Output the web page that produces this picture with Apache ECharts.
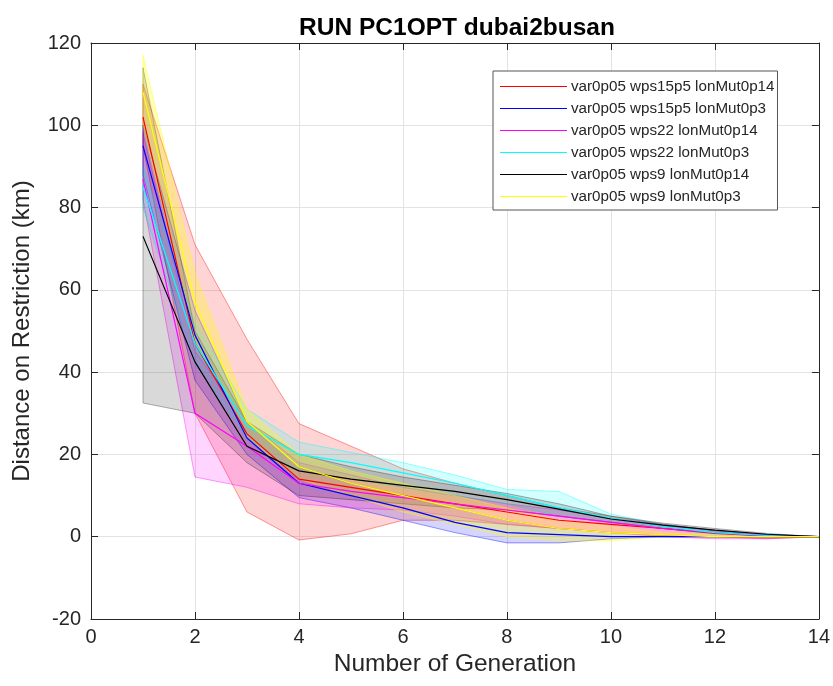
<!DOCTYPE html>
<html>
<head>
<meta charset="utf-8">
<script src="https://cdn.jsdelivr.net/npm/echarts@6/dist/echarts.min.js"></script>
<style>html,body{margin:0;padding:0;background:#fff}#c{width:833px;height:686px}</style>
</head>
<body>
<div id="c"></div>
<script>
const generations = [1,2,3,4,5,6,7,8,9,10,11,12,13,14];
const seriesNames = [
  'var0p05 wps15p5 lonMut0p14',
  'var0p05 wps15p5 lonMut0p3',
  'var0p05 wps22 lonMut0p14',
  'var0p05 wps22 lonMut0p3',
  'var0p05 wps9 lonMut0p14',
  'var0p05 wps9 lonMut0p3'
];
const seriesColors = ['#ff0000','#0000ff','#ff00ff','#00ffff','#000000','#ffff00'];

// wps15p5 lonMut0p14 (red)
const redMean  = [102, 47, 25, 14, 12, 10, 8, 6, 4, 3, 2, 0.8, 0.2, 0];
const redUpper = [110, 71, 48, 27.5, 22, 16.5, 13, 10, 7, 5, 3, 1.5, 0.5, 0];
const redLower = [95, 30, 6, -0.8, 0.7, 4, 4, 3, 2, 1, 0.3, 0, -0.5, 0];
// wps15p5 lonMut0p3 (blue)
const blueMean  = [95, 49, 24, 13, 10, 7, 3.5, 1, 0.5, 0, 0, 0, 0, 0];
const blueUpper = [100, 55, 28, 17, 13, 10, 7, 4, 2, 1, 0.5, 0, 0, 0];
const blueLower = [88, 38, 20, 9.5, 7, 4, 1, -1.5, -1.5, -0.5, 0, 0, 0, 0];
// wps22 lonMut0p14 (magenta)
const magMean  = [87, 30, 22, 13, 11, 9.5, 8, 6.5, 5, 3.5, 2, 1, 0.2, 0];
const magUpper = [98, 45, 28, 18, 15, 12, 10, 8, 6.5, 4.5, 3, 1.5, 0.5, 0];
const magLower = [82, 14.5, 12, 8, 7, 6.5, 5, 3, 2, 1, 0, -0.5, -0.5, 0];
// wps22 lonMut0p3 (cyan)
const cyanMean  = [85, 47, 27, 20, 18, 15.5, 13, 10, 7, 4.5, 2.5, 1, 0.3, 0];
const cyanUpper = [90, 52, 31, 23, 20.5, 18, 15, 11.5, 11, 5.5, 3, 1.5, 0.5, 0];
const cyanLower = [80, 42, 24, 16, 14, 12, 10, 8, 5, 3.5, 2, 0.5, 0, 0];
// wps9 lonMut0p14 (black)
const blackMean  = [73, 42.5, 22, 16, 14, 12.5, 11, 9, 6.7, 4.3, 2.8, 1.6, 0.6, 0];
const blackUpper = [114, 50, 28, 20, 17, 14.5, 12.5, 10.5, 8, 5, 3.3, 2, 0.8, 0];
const blackLower = [32.5, 30, 18, 10, 9, 8, 7, 6.5, 5, 3.5, 2, 1, 0.2, 0];
// wps9 lonMut0p3 (yellow)
const yelMean  = [108, 57, 28, 17, 13, 10, 7, 4, 2, 1, 0.5, 0, 0, 0];
const yelUpper = [117, 64, 31, 20, 16, 13, 10, 7, 4, 2.5, 1, 0.5, 0, 0];
const yelLower = [100, 48, 24, 14, 10, 6, 3, 0, -1, -1, 0, 0, 0, 0];

const xTicks = [0,2,4,6,8,10,12,14];
const yTicks = [-20,0,20,40,60,80,100,120];

const means  = [redMean, blueMean, magMean, cyanMean, blackMean, yelMean];
const uppers = [redUpper, blueUpper, magUpper, cyanUpper, blackUpper, yelUpper];
const lowers = [redLower, blueLower, magLower, cyanLower, blackLower, yelLower];

function rgba(hex, a){
  const r=parseInt(hex.substr(1,2),16),g=parseInt(hex.substr(3,2),16),b=parseInt(hex.substr(5,2),16);
  return 'rgba('+r+','+g+','+b+','+a+')';
}
const FONT = "'Liberation Sans', Arial, Helvetica, sans-serif";
const series = [];
seriesNames.forEach(function(name, i){
  const c = seriesColors[i];
  const fillA = (i===4) ? 0.15 : (i===5 ? 0.28 : 0.17);
  const edgeA = (i===4) ? 0.3 : 0.4;
  const bandData = generations.map((g,k)=>[g, lowers[i][k], uppers[i][k]]);
  series.push({
    name: 'band_'+i, type: 'custom', silent: true,
    data: bandData,
    encode: {x: 0, y: [1, 2]},
    renderItem: function(params, api){
      if (params.dataIndex !== 0) return null;
      const top = bandData.map(d => api.coord([d[0], d[2]]));
      const bot = bandData.map(d => api.coord([d[0], d[1]])).reverse();
      return {
        type: 'polygon',
        shape: {points: top.concat(bot)},
        style: {fill: rgba(c, fillA), stroke: rgba(c, edgeA), lineWidth: 1}
      };
    }
  });
  series.push({
    name: name, type: 'line',
    data: generations.map((g,k)=>[g, means[i][k]]),
    symbol: 'none', showSymbol: false,
    lineStyle: {color: c, width: 1.2},
    itemStyle: {color: c}
  });
});

const axisCol = '#262626';
const chart = echarts.init(document.getElementById('c'), null, {renderer: 'canvas'});
chart.setOption({
  animation: false,
  backgroundColor: '#ffffff',
  title: {
    text: 'RUN PC1OPT dubai2busan', left: 452, top: 11, textAlign: 'center',
    textStyle: {fontFamily: FONT, fontSize: 24.5, fontWeight: 'bold', color: '#000'}
  },
  grid: {left: 91, right: 12, top: 43, bottom: 67, containLabel: false},
  legend: {
    data: seriesNames, orient: 'vertical', left: 493, top: 71,
    itemWidth: 67, itemHeight: 14, itemGap: 7, padding: [8, 3, 6, 7],
    backgroundColor: '#fff', borderColor: '#555', borderWidth: 1,
    textStyle: {fontFamily: FONT, fontSize: 15.2, color: '#262626', padding: [0,0,0,-1]},
    icon: 'path://M0,0 L100,0 L100,1.5 L0,1.5 Z'
  },
  xAxis: [{
    type: 'value', min: 0, max: 14, interval: 2,
    name: 'Number of Generation', nameLocation: 'middle', nameGap: 27,
    nameTextStyle: {fontFamily: FONT, fontSize: 24.5, color: axisCol},
    axisLine: {show: true, onZero: false, lineStyle: {color: axisCol, width: 1}},
    axisTick: {show: true, inside: true, length: 7, lineStyle: {color: axisCol}},
    axisLabel: {fontFamily: FONT, fontSize: 20, color: axisCol, margin: 8,
      formatter: v => xTicks.indexOf(v) >= 0 ? String(v) : ''},
    splitLine: {show: true, lineStyle: {color: '#e3e3e3', width: 1}}
  }, {
    type: 'value', position: 'top', min: 0, max: 14, interval: 2,
    axisLine: {show: true, onZero: false, lineStyle: {color: axisCol, width: 1}},
    axisTick: {show: true, inside: true, length: 7, lineStyle: {color: axisCol}},
    axisLabel: {show: false}, splitLine: {show: false}
  }],
  yAxis: [{
    type: 'value', min: -20, max: 120, interval: 20,
    name: 'Distance on Restriction (km)', nameLocation: 'middle', nameGap: 57,
    nameTextStyle: {fontFamily: FONT, fontSize: 24, color: axisCol},
    axisLine: {show: true, onZero: false, lineStyle: {color: axisCol, width: 1}},
    axisTick: {show: true, inside: true, length: 7, lineStyle: {color: axisCol}},
    axisLabel: {fontFamily: FONT, fontSize: 20, color: axisCol, margin: 10,
      formatter: v => yTicks.indexOf(v) >= 0 ? String(v) : ''},
    splitLine: {show: true, lineStyle: {color: '#e3e3e3', width: 1}}
  }, {
    type: 'value', position: 'right', min: -20, max: 120, interval: 20,
    axisLine: {show: true, onZero: false, lineStyle: {color: axisCol, width: 1}},
    axisTick: {show: true, inside: true, length: 7, lineStyle: {color: axisCol}},
    axisLabel: {show: false}, splitLine: {show: false}
  }],
  series: series
});
</script>
</body>
</html>
